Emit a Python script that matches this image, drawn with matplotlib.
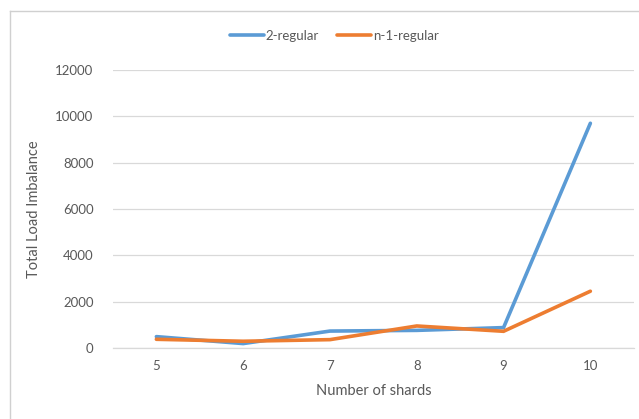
import matplotlib.pyplot as plt
from matplotlib.lines import Line2D

plt.rcParams['font.family'] = ['Lato', 'DejaVu Sans']

shards = [5, 6, 7, 8, 9, 10]
two_regular = [490, 190, 730, 760, 880, 9700]
n1_regular = [375, 290, 360, 950, 720, 2450]

blue = '#5B9BD5'
orange = '#ED7D31'
text_gray = '#595959'
grid_gray = '#D9D9D9'

fig = plt.figure(figsize=(6.39, 4.19), dpi=100)
ax = fig.add_axes([0.1768, 0.1695, 0.815, 0.6635])

# chart area border: only the top and left edges
border_x = 9.5 / 639
border_y = 1 - 11.5 / 419
fig.add_artist(Line2D([border_x, 1.0], [border_y, border_y], transform=fig.transFigure,
                      color='#D0D0D0', linewidth=1.0))
fig.add_artist(Line2D([border_x, border_x], [0.0, border_y], transform=fig.transFigure,
                      color='#D0D0D0', linewidth=1.0))

xpos = list(range(len(shards)))
ax.plot(xpos, two_regular, color=blue, linewidth=2.6, label='2-regular',
        solid_capstyle='round', solid_joinstyle='miter')
ax.plot(xpos, n1_regular, color=orange, linewidth=2.6, label='n-1-regular',
        solid_capstyle='round', solid_joinstyle='miter')

ax.set_xlim(-0.5, len(shards) - 0.5)
ax.set_ylim(0, 12000)
ax.set_xticks(xpos)
ax.set_xticklabels([str(s) for s in shards])
ax.set_yticks(range(0, 12001, 2000))

ax.grid(axis='y', color=grid_gray, linewidth=0.9)
ax.set_axisbelow(True)
for side in ['top', 'right', 'left']:
    ax.spines[side].set_visible(False)
ax.spines['bottom'].set_color(grid_gray)
ax.spines['bottom'].set_linewidth(0.9)
ax.tick_params(length=0, colors=text_gray, labelsize=9.5)
ax.tick_params(axis='y', pad=14)
ax.tick_params(axis='x', pad=9)

ax.set_xlabel('Number of shards', color=text_gray, fontsize=10.5, labelpad=8)
ax.set_ylabel('Total Load Imbalance', color=text_gray, fontsize=10.5, labelpad=10)

fig.legend(loc='center', bbox_to_anchor=(0.523, 0.915), ncol=2, frameon=False,
           fontsize=9.5, handlelength=2.6, handletextpad=0.1, columnspacing=1.4,
           labelcolor=text_gray)

fig.savefig('out.png', dpi=100)
